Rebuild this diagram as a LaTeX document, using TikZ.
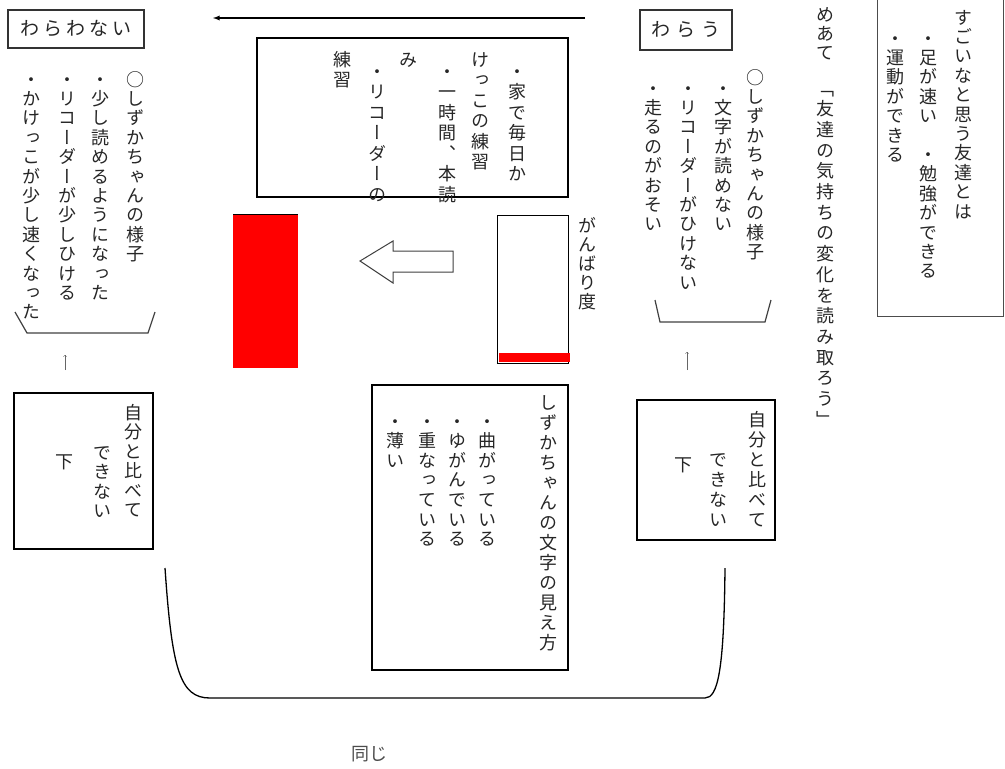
\documentclass[tikz,border=0pt]{standalone}
\usepackage{fontspec}
\setmainfont{Noto Sans CJK JP}
\newfontfamily\tatefont[RawFeature=+vert]{Noto Sans CJK JP}
\usetikzlibrary{positioning}

% columna vertical: un carácter por línea
\def\tateloop#1{\ifx\relax#1\else\hbox to 1em{\hss\vrule width0pt height.88em depth.12em\relax#1\hss}\expandafter\tateloop\fi}
\newcommand\tate[2][19.4pt]{\vtop{\tatefont\baselineskip=#1\lineskiplimit=-100pt\lineskip=0pt\tateloop#2\relax}}

\begin{document}
\begin{tikzpicture}[x=1pt,y=-1pt,
    tatecol/.style={inner sep=0pt,anchor=north,text=black!85,font=\fontsize{18pt}{20pt}\selectfont},
    hako/.style={draw=black,line width=1.3pt,rectangle,inner sep=0pt},
    midashi/.style={draw=black!80,line width=1.8pt,rectangle,inner sep=0pt,text=black!85,font=\fontsize{19pt}{22pt}\selectfont},
    kakko/.style={line width=1.2pt,black!75}]
  \useasboundingbox (0,0) rectangle (1005,769);

  % Cuadro: すごいなと思う友達とは
  \draw[line width=1pt,black!70] (877,-2) rectangle (1003,316);
  \node[tatecol] (sugoi) at (963,8) {\tate{すごいなと思う友達とは}};
  \node[tatecol] (sugoiA) at (928,29) {\tate{・足が速い　・勉強ができる}};
  \node[tatecol] (sugoiB) at (895,29) {\tate{・運動ができる}};

  % めあて
  \node[tatecol] (meate) at (825,5) {\tate{めあて}};
  \node[tatecol] (goal) at (825,79) {\tate[20.7pt]{「友達の気持ちの変化を読み取ろう」}};

  % わらう
  \node[midashi,minimum width=92pt,minimum height=40pt] (warau) at (686,30) {わ\hspace{6pt}ら\hspace{6pt}う};
  \node[tatecol] (migiA) at (755,68) {\tate{○しずかちゃんの様子}};
  \node[tatecol] (migiB) at (723,79) {\tate{・文字が読めない}};
  \node[tatecol] (migiC) at (688,79) {\tate{・リコーダーがひけない}};
  \node[tatecol] (migiD) at (653,79) {\tate{・走るのがおそい}};
  \draw[kakko] (655,300) -- (660,322) -- (765,322) -- (771,300);
  \coordinate (upR1) at (687,370);
  \coordinate (upR2) at (687,352);
  \draw[->,black!60] (upR1) -- (upR2);
  \node[hako,minimum width=138pt,minimum height=140pt] (migiBox) at (706,470) {};
  \node[tatecol] (migiHi) at (757,410) {\tate[20pt]{自分と比べて}};
  \node[tatecol] (migiDek) at (718,450) {\tate[20pt]{できない}};
  \node[tatecol] (migiShita) at (683,455) {\tate{下}};

  % Flecha de arriba
  \coordinate (yaS) at (585,18);
  \coordinate (yaE) at (213,18);
  \draw[-latex,line width=1.3pt] (yaS) -- (yaE);

  % Cuadro del medio: práctica
  \node[hako,minimum width=311pt,minimum height=159pt] (renshu) at (412.5,117.5) {};
  \node[tatecol] (renA) at (517,62) {\tate[20.5pt]{・家で毎日か}};
  \node[tatecol] (renB) at (480,50) {\tate[20.5pt]{けっこの練習}};
  \node[tatecol] (renC) at (447,62) {\tate[20.5pt]{・一時間、本読}};
  \node[tatecol] (renD) at (408,50) {\tate[20.5pt]{み}};
  \node[tatecol] (renE) at (377,62) {\tate[20.5pt]{・リコーダーの}};
  \node[tatecol] (renF) at (342,50) {\tate[20.5pt]{練習}};

  % Barras: がんばり度
  \fill[red] (233,214) rectangle (298,368);
  \draw[line width=1pt] (233,214) -- (298,214);
  \draw[line width=1pt] (497,215) rectangle (568,363);
  \fill[red] (499,353) rectangle (570,362);
  \node[tatecol] (ganbari) at (587,216) {\tate[19pt]{がんばり度}};
  \draw[line width=1pt,black!75,fill=white] (453,251) -- (393,251) -- (393,241) -- (360,261)
    -- (393,283) -- (393,272) -- (453,272) -- cycle;

  % Cuadro: しずかちゃんの文字の見え方
  \node[hako,minimum width=196pt,minimum height=285pt] (mieKata) at (470,527.5) {};
  \node[tatecol] (mieA) at (548,393) {\tate[20pt]{しずかちゃんの文字の見え方}};
  \node[tatecol] (mieB) at (487,412) {\tate[19.6pt]{・曲がっている}};
  \node[tatecol] (mieC) at (457,412) {\tate[19.6pt]{・ゆがんでいる}};
  \node[tatecol] (mieD) at (427,412) {\tate[19.6pt]{・重なっている}};
  \node[tatecol] (mieE) at (395,412) {\tate[19.6pt]{・薄い}};

  % わらわない
  \node[midashi,minimum width=136pt,minimum height=38pt] (warawanai) at (76,29) {わ\hspace{4pt}ら\hspace{4pt}わ\hspace{4pt}な\hspace{4pt}い};
  \node[tatecol] (hidA) at (135,70) {\tate{○しずかちゃんの様子}};
  \node[tatecol] (hidB) at (100,70) {\tate{・少し読めるようになった}};
  \node[tatecol] (hidC) at (67,70) {\tate{・リコーダーが少しひける}};
  \node[tatecol] (hidD) at (32,70) {\tate{・かけっこが少し速くなった}};
  \draw[kakko] (15,312) -- (27,333) -- (148,333) -- (155,312);
  \coordinate (upL1) at (65,370);
  \coordinate (upL2) at (65,355);
  \draw[->,black!60] (upL1) -- (upL2);
  \node[hako,minimum width=139pt,minimum height=156pt] (hidBox) at (83.5,471) {};
  \node[tatecol] (hidHi) at (133,403) {\tate[19.5pt]{自分と比べて}};
  \node[tatecol] (hidDek) at (102,443) {\tate[19.5pt]{できない}};
  \node[tatecol] (hidShita) at (65,452) {\tate{下}};

  % Llave de abajo: 同じ
  \draw[line width=1.3pt] (165,568) .. controls (172,670) and (180,698) .. (210,698) -- (705,698)
    .. controls (718,698) and (724,670) .. (725,568);
  \node[text=black!70,font=\fontsize{18pt}{20pt}\selectfont] (onaji) at (369,754) {同じ};
\end{tikzpicture}
\end{document}
